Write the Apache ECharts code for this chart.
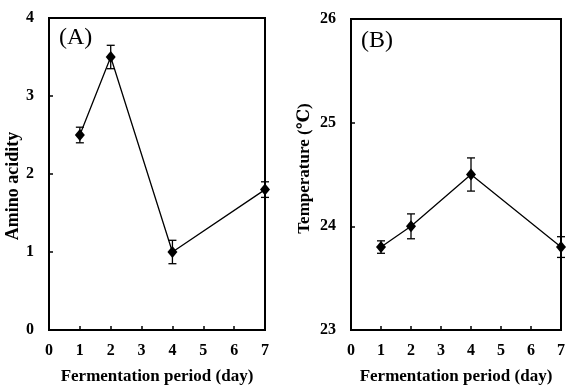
<!DOCTYPE html>
<html><head><meta charset="utf-8">
<script src="https://cdn.jsdelivr.net/npm/echarts@6/dist/echarts.min.js"></script>
<style>html,body{margin:0;padding:0;background:#fff}#c{width:568px;height:391px}</style>
</head><body><div id="c"></div>
<script>
var days = [1, 2, 4, 7];
var aminoMean = [2.5, 3.5, 1.0, 1.8];
var aminoErr = [0.1, 0.15, 0.15, 0.1];
var tempMean = [23.8, 24.0, 24.5, 23.8];
var tempErr = [0.06, 0.12, 0.16, 0.1];
var xTicks = [0, 1, 2, 3, 4, 5, 6, 7];

var FONT = '"Liberation Serif", "DejaVu Serif", serif';
function pairs(m){ return days.map(function(d,i){ return [d, m[i]]; }); }
function errData(m,e){ return days.map(function(d,i){ return [d, m[i]-e[i], m[i]+e[i]]; }); }
function errRender(params, api){
  var x = api.value(0), lo = api.coord([x, api.value(1)]), hi = api.coord([x, api.value(2)]);
  var w = 4;
  var st = {stroke:'#000', lineWidth:1.3};
  return {type:'group', children:[
    {type:'line', shape:{x1:lo[0],y1:lo[1],x2:hi[0],y2:hi[1]}, style:st},
    {type:'line', shape:{x1:lo[0]-w,y1:lo[1],x2:lo[0]+w,y2:lo[1]}, style:st},
    {type:'line', shape:{x1:hi[0]-w,y1:hi[1],x2:hi[0]+w,y2:hi[1]}, style:st}
  ]};
}
function xAx(idx){
  return {type:'value', gridIndex:idx, min:0, max:7, interval:1,
    name:'Fermentation period (day)', nameLocation:'middle', nameGap:38,
    nameTextStyle:{fontFamily:FONT, fontWeight:'bold', fontSize:17, color:'#000'},
    axisLine:{show:true, onZero:false, lineStyle:{color:'#000', width:2}},
    axisTick:{show:true, inside:true, length:4, lineStyle:{color:'#000', width:1.5}},
    axisLabel:{fontFamily:FONT, fontWeight:'bold', fontSize:16, color:'#000', margin:13,
      formatter:function(v){ return xTicks.indexOf(v)>=0 ? String(v) : ''; }},
    splitLine:{show:false}};
}
function yAx(idx, mn, mx, name, gap, fs, pad){
  return {type:'value', gridIndex:idx, min:mn, max:mx, interval:1,
    name:name, nameLocation:'middle', nameGap:gap,
    nameTextStyle:{fontFamily:FONT, fontWeight:'bold', fontSize:fs, color:'#000', padding:pad},
    axisLine:{show:true, onZero:false, lineStyle:{color:'#000', width:2}},
    axisTick:{show:true, inside:true, length:4, lineStyle:{color:'#000', width:1.5}},
    axisLabel:{fontFamily:FONT, fontWeight:'bold', fontSize:16, color:'#000', margin:15},
    splitLine:{show:false}};
}
var chart = echarts.init(document.getElementById('c'), null, {renderer:'canvas'});
chart.setOption({
  animation:false,
  backgroundColor:'#fff',
  grid:[
    {left:49, top:18, width:216, height:312, show:true, borderColor:'#000', borderWidth:2, backgroundColor:'transparent'},
    {left:351, top:19, width:215, height:311, show:true, borderColor:'#000', borderWidth:2, backgroundColor:'transparent'}
  ],
  xAxis:[xAx(0), xAx(1)],
  yAxis:[yAx(0,0,4,'Amino acidity',27,18,[0,24,0,0]), yAx(1,23,26,'Temperature (℃)',38,17,[0,0,0,12])],
  graphic:[
    {type:'text', left:59, top:26, style:{text:'(A)', font:'24px ' + FONT, fill:'#000'}},
    {type:'text', left:361, top:29, style:{text:'(B)', font:'24px ' + FONT, fill:'#000'}}
  ],
  series:[
    {type:'line', xAxisIndex:0, yAxisIndex:0, data:pairs(aminoMean), symbol:'diamond', symbolSize:[10,12],
      lineStyle:{color:'#000', width:1.3}, itemStyle:{color:'#000'}},
    {type:'custom', xAxisIndex:0, yAxisIndex:0, data:errData(aminoMean, aminoErr), renderItem:errRender, z:3},
    {type:'line', xAxisIndex:1, yAxisIndex:1, data:pairs(tempMean), symbol:'diamond', symbolSize:[10,12],
      lineStyle:{color:'#000', width:1.3}, itemStyle:{color:'#000'}},
    {type:'custom', xAxisIndex:1, yAxisIndex:1, data:errData(tempMean, tempErr), renderItem:errRender, z:3}
  ]
});
</script></body></html>
